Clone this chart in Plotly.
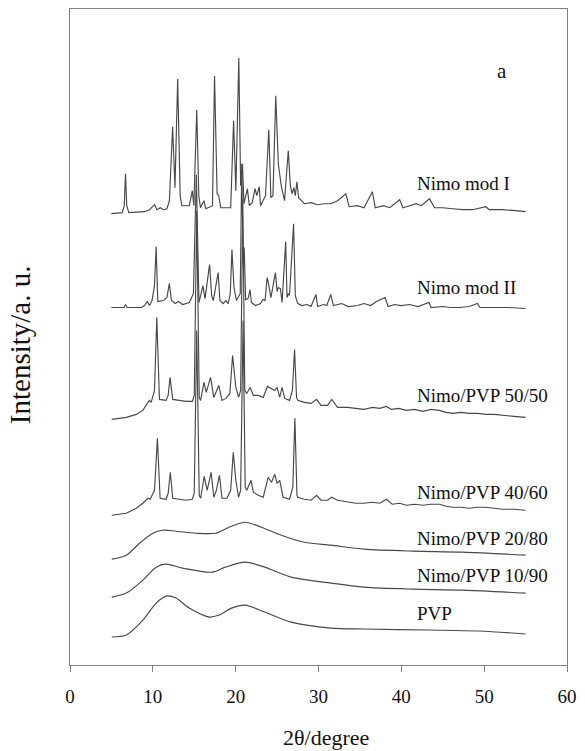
import plotly.graph_objects as go

# 2theta (degree), intensity (a.u., stacked offsets included)
nimo_mod_I = [(5.0,452),(6.3,453),(6.55,460),(6.7,492),(6.85,460),(7.1,453),(9.0,454),(9.6,456),(10.2,461),(10.5,456),
    (10.9,458),(11.3,456),(11.7,457),(12.0,465),(12.39,539),(12.67,478),(13.0,587),(13.3,470),(13.5,460),(14.4,460),
    (14.77,475),(14.95,460),(15.3,556),(15.55,470),(15.75,458),(16.17,465),(16.4,457),(17.2,460),(17.45,590),(17.76,472),
    (17.95,470),(18.2,458),(19.4,458),(19.75,545),(20.02,475),(20.38,608),(20.6,480),(20.82,502),(21.0,462),(21.42,477),
    (21.65,460),(22.0,463),(22.34,477),(22.55,470),(22.85,479),(23.0,460),(23.3,465),(23.6,470),(24.0,536),(24.25,468),
    (24.5,470),(24.84,570),(25.15,502),(25.5,480),(25.9,465),(26.35,515),(26.6,480),(26.8,472),(27.03,478),(27.2,470),
    (27.39,484),(27.6,468),(28.3,462),(29.1,463),(29.9,461),(30.7,462),(31.5,462),(32.3,465),(33.3,472),(33.7,459),
    (34.7,460),(35.5,458),(36.5,474),(36.85,458),(37.85,460),(38.6,458),(39.8,466),(40.2,458),(41.0,460),(41.8,462),
    (42.4,460),(43.4,467),(44.0,458),(45.0,458),(46.2,457),(47.4,456),(48.6,456),(50.2,459),(50.6,456),(52.2,456),
    (53.8,455),(55.0,454)]

nimo_mod_II = [(5.0,358),(6.5,358),(6.7,361),(6.9,358),(8.6,358),(9.0,360),(9.33,364),(9.6,360),(9.9,365),(10.2,380),
    (10.4,419),(10.6,364),(11.3,365),(11.7,368),(11.99,382),(12.25,365),(12.7,362),(13.1,364),(13.6,361),(14.4,363),
    (14.9,372),(15.25,491),(15.57,363),(16.05,380),(16.3,367),(16.85,401),(17.1,370),(17.3,365),(17.88,393),(18.1,365),
    (18.5,362),(18.8,365),(19.1,362),(19.35,372),(19.55,416),(19.8,378),(20.1,365),(20.55,372),(20.74,502),(20.9,400),
    (21.03,418),(21.2,366),(21.5,367),(21.74,376),(21.9,363),(22.4,360),(23.0,362),(23.3,366),(23.55,365),(23.8,388),
    (23.95,383),(24.25,368),(24.8,393),(25.0,374),(25.15,378),(25.4,377),(25.6,363),(26.04,424),(26.2,368),(26.35,372),
    (26.5,370),(26.99,442),(27.2,370),(27.5,362),(28.0,360),(28.6,361),(29.1,359),(29.69,371),(29.9,359),(30.6,361),
    (31.0,360),(31.48,371),(31.8,360),(32.8,362),(33.6,359),(34.7,360),(35.5,362),(36.3,360),(37.0,364),(38.04,368),
    (38.4,359),(39.2,361),(40.0,360),(41.0,361),(42.0,359),(43.34,363),(43.6,358),(45.0,359),(46.0,358),(47.0,358),
    (48.2,359),(49.19,362),(49.5,358),(51.5,358),(53.0,358),(55.0,357)]

nimo_pvp_50_50 = [(5.04,246),(6.8,248),(8.0,251),(8.8,255),(9.33,262),(9.6,265),(9.8,263),(10.2,275),(10.48,348),(10.8,266),
    (11.6,265),(11.85,270),(12.08,288),(12.4,266),(13.2,265),(14.0,264),(14.77,264),(15.0,270),(15.3,455),(15.6,268),
    (15.77,265),(16.17,283),(16.45,273),(16.97,288),(17.36,268),(17.64,273),(17.96,280),(18.35,265),(18.83,267),(19.3,272),
    (19.63,310),(20.02,278),(20.35,268),(20.6,275),(20.86,465),(21.1,275),(21.34,272),(21.74,278),(22.14,270),(22.73,270),
    (23.33,268),(23.84,279),(24.25,277),(24.72,275),(25.0,278),(25.32,268),(25.6,278),(25.92,267),(26.5,265),(26.85,275),
    (27.11,316),(27.35,268),(27.5,265),(28.3,263),(29.1,262),(29.77,266),(30.3,260),(31.1,260),(31.6,266),(32.3,258),
    (33.5,258),(34.5,257),(35.5,256),(36.5,258),(37.4,257),(38.2,259),(38.8,256),(39.7,257),(40.6,255),(41.6,256),
    (42.6,254),(43.6,256),(44.6,255),(45.4,253),(46.2,252),(47.2,253),(48.2,252),(49.2,252),(50.2,251),(51.2,251),
    (52.2,250),(53.6,249),(55.0,248)]

nimo_pvp_40_60 = [(5.04,150),(6.8,152),(8.0,157),(8.8,162),(9.41,167),(9.68,166),(10.2,175),(10.55,227),(10.88,167),(11.6,166),
    (11.85,172),(12.11,193),(12.4,167),(13.2,166),(14.0,165),(14.77,166),(15.0,172),(15.3,335),(15.6,170),(15.77,167),
    (16.2,189),(16.56,175),(17.04,193),(17.36,168),(17.64,174),(18.04,190),(18.35,167),(18.95,167),(19.4,175),(19.71,213),
    (20.02,185),(20.35,168),(20.6,175),(20.9,345),(21.15,178),(21.34,175),(21.86,185),(22.14,173),(22.73,170),(23.33,168),
    (23.92,188),(24.33,183),(24.72,191),(25.0,182),(25.32,185),(25.72,168),(26.5,166),(26.9,178),(27.15,247),(27.4,170),
    (27.5,168),(28.3,166),(29.1,165),(29.77,170),(30.3,165),(31.1,165),(31.6,168),(32.3,165),(33.5,163),(34.5,162),
    (35.5,162),(36.5,163),(37.4,162),(38.2,166),(38.9,161),(39.8,162),(40.6,160),(41.6,161),(42.6,160),(43.6,161),
    (44.6,161),(45.4,159),(46.2,158),(47.2,158),(48.2,157),(49.2,158),(50.2,158),(51.2,157),(52.2,156),(53.6,156),
    (55.0,155)]

nimo_pvp_20_80 = [(5.04,106),(6.8,110),(8.4,122),(10.0,132),(11.2,135),(12.8,134),(15.2,132),(17.6,132),(19.2,138),
    (21.15,143),(23.1,138),(25.5,130),(28.3,123),(31.5,120),(35.5,116),(41.4,114),(47.4,113),(55.0,110)]

nimo_pvp_10_90 = [(5.04,68),(6.8,72),(8.8,85),(10.4,98),(11.6,101),(13.6,97),(17.2,93),(18.75,98),(21.15,103),
    (23.5,98),(26.7,88),(31.5,82),(35.5,78),(41.4,76),(47.4,75),(55.0,72)]

pvp = [(5.04,28),(6.8,30),(8.8,45),(10.4,62),(11.6,69),(12.8,67),(14.4,57),(16.8,48),(18.0,50),(19.5,57),
    (21.15,60),(23.5,53),(26.7,43),(31.5,37),(35.5,36),(43.4,35),(49.4,34),(55.0,31)]

series_names = ["Nimo mod I", "Nimo mod II", "Nimo/PVP 50/50", "Nimo/PVP 40/60",
                "Nimo/PVP 20/80", "Nimo/PVP 10/90", "PVP"]
series_data = [nimo_mod_I, nimo_mod_II, nimo_pvp_50_50, nimo_pvp_40_60,
               nimo_pvp_20_80, nimo_pvp_10_90, pvp]
amorphous = [False, False, False, False, True, True, True]
label_y = [482, 378, 270, 173, 127, 90, 52]
label_x = 41.6
tick_vals = [0, 10, 20, 30, 40, 50, 60]

FONT = "Liberation Serif, Times New Roman, serif"
LINE = "#484848"
AX = "#808080"

fig = go.Figure()
for name, data, amo in zip(series_names, series_data, amorphous):
    xs = [p[0] for p in data]
    ys = [p[1] for p in data]
    fig.add_trace(go.Scatter(
        x=xs, y=ys, mode="lines", name=name,
        line=dict(color=LINE, width=1.15,
                  shape="spline" if amo else "linear",
                  smoothing=0.8 if amo else None),
        showlegend=False, hoverinfo="skip"))

annotations = []
for name, ly in zip(series_names, label_y):
    annotations.append(dict(x=label_x, y=ly, xref="x", yref="y", text=name,
                            showarrow=False, xanchor="left", yanchor="middle",
                            font=dict(family=FONT, size=19, color="#111")))
annotations.append(dict(x=52.2, y=595, xref="x", yref="y", text="a", showarrow=False,
                        xanchor="center", yanchor="middle",
                        font=dict(family=FONT, size=21, color="#111")))
annotations.append(dict(x=0.515, y=-0.11, xref="paper", yref="paper", text="2θ/degree",
                        showarrow=False, xanchor="center", yanchor="middle",
                        font=dict(family=FONT, size=22, color="#111")))
annotations.append(dict(x=-0.1, y=0.488, xref="paper", yref="paper", text="Intensity/a. u.",
                        showarrow=False, xanchor="center", yanchor="middle", textangle=-90,
                        font=dict(family=FONT, size=29, color="#111")))

fig.update_layout(
    width=585, height=751,
    margin=dict(l=70, r=13, t=8, b=86),
    paper_bgcolor="white", plot_bgcolor="white",
    annotations=annotations,
    xaxis=dict(range=[0, 60], tickvals=tick_vals, ticks="outside", ticklen=6,
               tickcolor=AX, tickwidth=1, showline=True, linecolor=AX, linewidth=1,
               mirror=True, showgrid=False, zeroline=False, ticklabelstandoff=8,
               tickfont=dict(family=FONT, size=19, color="#111")),
    yaxis=dict(range=[0, 657], showticklabels=False, ticks="", showline=True,
               linecolor=AX, linewidth=1, mirror=True, showgrid=False, zeroline=False),
)

fig.write_html("out.html")
